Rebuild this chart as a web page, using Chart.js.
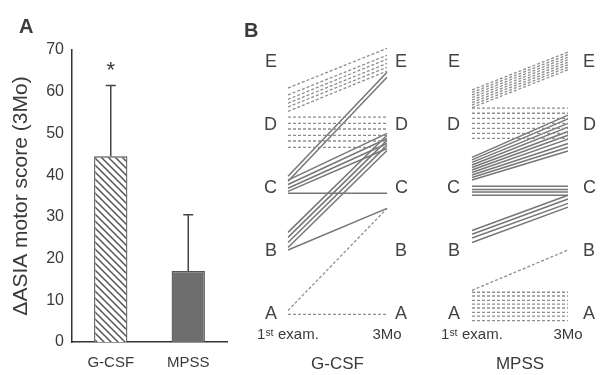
<!DOCTYPE html>
<html>
<head>
<meta charset="utf-8">
<script src="https://cdn.jsdelivr.net/npm/chart.js@4"></script>
<style>
  body { margin: 0; background: #fff; }
  #wrap { position: relative; width: 604px; height: 375px; overflow: hidden; font-family: "Liberation Sans", Arial, sans-serif; }
  canvas { position: absolute; top: 0; }
  .tag { position: absolute; font-size: 20px; font-weight: bold; line-height: 20px; color: #3c3c3c; }
</style>
</head>
<body>
<div id="wrap">
  <canvas id="barChart" width="240" height="375" style="left:0"></canvas>
  <canvas id="gcsfChart" width="190" height="375" style="left:230px"></canvas>
  <canvas id="mpssChart" width="184" height="375" style="left:420px"></canvas>
  <div class="tag" style="left:19px;top:16px">A</div>
  <div class="tag" style="left:244px;top:20px">B</div>
</div>
<script>
  // panel A
  const treatments = ['G-CSF', 'MPSS'];
  const meanScore = [44.5, 17];
  const sdScore = [17, 13.5];

  // panel B: ASIA grade at 1st exam and 3 months, one entry per patient
  // (whole number = grade, A=1 ... E=5; decimals only spread patients inside a grade)
  const grades = ['A', 'B', 'C', 'D', 'E'];
  const timepoints = ['1ˢᵗ exam.', '3Mo'];

  const gcsfStart = [4.59, 4.48, 4.41, 4.35, 4.29, 4.22,
    4.13, 4.03, 3.94, 3.84, 3.75, 3.65,
    3.19, 3.11,
    3.13, 3.06, 3.00, 2.95,
    2.92,
    2.30, 2.22, 2.14, 2.06,
    2.02,
    1.06, 1.00];
  const gcsfEnd = [5.22, 5.11, 5.05, 4.98, 4.92, 4.86,
    4.13, 4.03, 3.94, 3.84, 3.75, 3.65,
    4.84, 4.76,
    3.87, 3.79, 3.71, 3.63,
    2.92,
    3.84, 3.76, 3.68, 3.60,
    2.68,
    2.68, 1.00];

  const mpssStart = [4.56, 4.52, 4.48, 4.44, 4.40, 4.36, 4.32, 4.28,
    4.27, 4.19, 4.11, 4.03, 3.95, 3.87, 3.79,
    3.49, 3.45, 3.41, 3.37, 3.33, 3.29, 3.25, 3.21, 3.17, 3.13,
    3.03, 2.98, 2.94, 2.89,
    2.33, 2.27, 2.21, 2.14,
    1.38,
    1.35, 1.29, 1.22, 1.16, 1.10, 1.03, 0.97, 0.90];
  const mpssEnd = [5.16, 5.12, 5.08, 5.04, 5.00, 4.96, 4.92, 4.88,
    4.27, 4.19, 4.11, 4.03, 3.95, 3.87, 3.79,
    4.16, 4.10, 4.03, 3.97, 3.90, 3.84, 3.78, 3.71, 3.65, 3.59,
    3.03, 2.98, 2.94, 2.89,
    2.89, 2.83, 2.76, 2.70,
    2.02,
    1.35, 1.29, 1.22, 1.16, 1.10, 1.03, 0.97, 0.90];

  const ink = '#3a3a3a';
  Chart.defaults.font.family = '"Liberation Sans", Arial, sans-serif';
  Chart.defaults.color = ink;

  // diagonal hatch for the G-CSF bar
  const hatch = (() => {
    const c = document.createElement('canvas');
    c.width = c.height = 7;
    const g = c.getContext('2d');
    g.fillStyle = '#fff';
    g.fillRect(0, 0, 7, 7);
    g.strokeStyle = '#555';
    g.lineWidth = 1.5;
    g.beginPath();
    g.moveTo(-1, -1); g.lineTo(8, 8);
    g.moveTo(-1, 6); g.lineTo(1, 8);
    g.moveTo(6, -1); g.lineTo(8, 1);
    g.stroke();
    return g.createPattern(c, 'repeat');
  })();

  const errorBars = {
    id: 'errorBars',
    afterDatasetsDraw(chart) {
      const { ctx, scales: { x, y } } = chart;
      ctx.save();
      ctx.strokeStyle = '#444';
      ctx.lineWidth = 1.5;
      meanScore.forEach((m, i) => {
        const cx = x.getPixelForValue(i);
        const y0 = y.getPixelForValue(m);
        const y1 = y.getPixelForValue(m + sdScore[i]);
        ctx.beginPath();
        ctx.moveTo(cx, y0); ctx.lineTo(cx, y1);
        ctx.moveTo(cx - 5, y1); ctx.lineTo(cx + 5, y1);
        ctx.stroke();
        if (i === 0) {
          ctx.fillStyle = ink;
          ctx.font = '22px "Liberation Sans", Arial, sans-serif';
          ctx.textAlign = 'center';
          ctx.textBaseline = 'bottom';
          ctx.fillText('*', cx, y1 - 4);
        }
      });
      ctx.restore();
    }
  };

  new Chart(document.getElementById('barChart'), {
    type: 'bar',
    data: {
      labels: treatments,
      datasets: [{
        data: meanScore,
        backgroundColor: [hatch, '#6e6e6e'],
        borderColor: '#555',
        borderWidth: 1.3,
        barPercentage: 0.43,
        categoryPercentage: 1,
      }]
    },
    options: {
      responsive: false,
      animation: false,
      layout: { padding: { top: 50, left: 6, right: 13, bottom: 0 } },
      plugins: { legend: { display: false }, tooltip: { enabled: false } },
      scales: {
        x: {
          grid: { display: false, drawTicks: false },
          border: { color: '#333', width: 1.5 },
          ticks: { font: { size: 15 }, padding: 12 },
          afterFit: a => { a.height = 33; }
        },
        y: {
          min: 0, max: 70,
          grid: { display: false, drawTicks: false },
          border: { color: '#333', width: 1.5 },
          ticks: { stepSize: 10, font: { size: 16 }, padding: 8 },
          title: { display: true, text: 'ΔASIA motor score (3Mo)', font: { size: 21 }, padding: { top: 3, bottom: 0 } },
          afterFit: a => { a.width = 66; }
        }
      }
    },
    plugins: [errorBars]
  });

  function gradeDatasets(starts, ends) {
    return starts.map((s, i) => {
      const dashed = s > 3.6 || s < 1.5;
      return {
        data: [s, ends[i]],
        borderColor: dashed ? '#8e8e8e' : '#767676',
        borderWidth: dashed ? 1.3 : 1.5,
        borderDash: dashed ? [3, 2] : [],
        pointRadius: 0,
        tension: 0,
        fill: false,
      };
    });
  }

  function gradeAxis(side, width, pad) {
    return {
      position: side,
      min: 0.83, max: 5.4,
      grid: { display: false, drawTicks: false },
      border: { display: false },
      ticks: {
        stepSize: 1, includeBounds: false, padding: pad,
        font: { size: 18 }, color: '#444',
        callback: v => grades[v - 1] ?? ''
      },
      afterFit: a => { a.width = width; }
    };
  }

  function gradeChart(id, starts, ends, group, leftW, leftPad, rightW, rightPad) {
    new Chart(document.getElementById(id), {
      type: 'line',
      data: { labels: timepoints, datasets: gradeDatasets(starts, ends) },
      options: {
        responsive: false,
        animation: false,
        layout: { padding: { top: 37, left: 0, right: 0, bottom: 0 } },
        plugins: { legend: { display: false }, tooltip: { enabled: false } },
        scales: {
          x: {
            type: 'category',
            offset: false,
            grid: { display: false, drawTicks: false },
            border: { display: false },
            ticks: { font: { size: 15 }, padding: 1, maxRotation: 0, autoSkip: false },
            title: { display: true, text: group, font: { size: 17 }, padding: { top: 0, bottom: 0 } },
            afterFit: a => { a.height = 50; }
          },
          y: gradeAxis('left', leftW, leftPad),
          yR: gradeAxis('right', rightW, rightPad)
        }
      }
    });
  }

  gradeChart('gcsfChart', gcsfStart, gcsfEnd, 'G-CSF', 58, 11, 33, 8);
  gradeChart('mpssChart', mpssStart, mpssEnd, 'MPSS', 52, 12, 36, 15);
</script>
</body>
</html>
